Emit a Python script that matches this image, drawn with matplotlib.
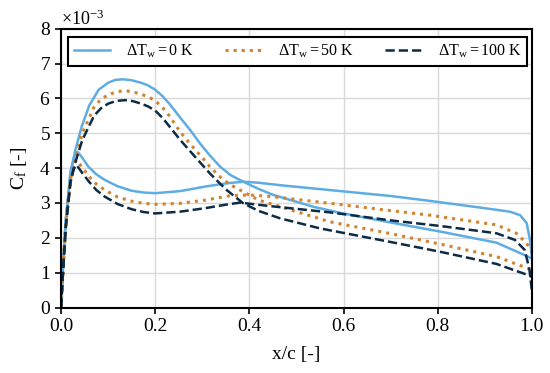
import numpy as np
import matplotlib
matplotlib.use('Agg')
import matplotlib.pyplot as plt
from matplotlib.ticker import ScalarFormatter

plt.rcParams['font.family'] = ['Liberation Serif', 'DejaVu Serif']
plt.rcParams['mathtext.fontset'] = 'custom'
plt.rcParams['mathtext.rm'] = 'Liberation Serif'
plt.rcParams['mathtext.it'] = 'Liberation Serif:italic'

# Cf values in units of 1e-3; branch "a" = leading-edge peak, branch "b" = small peak
x_0k_a = [0, 0.005, 0.01, 0.02, 0.03, 0.044, 0.06, 0.08, 0.1, 0.115, 0.132, 0.15, 0.17, 0.185,
          0.2, 0.215, 0.23, 0.253, 0.275, 0.295, 0.315, 0.338, 0.36, 0.387, 0.42, 0.451,
          0.536, 0.592, 0.7, 0.805, 0.925, 0.992, 1.0]
cf_0k_a = [0, 1.4, 2.5, 3.8, 4.5, 5.2, 5.8, 6.25, 6.45, 6.53, 6.55, 6.52, 6.45, 6.37,
           6.25, 6.07, 5.85, 5.45, 5.08, 4.71, 4.38, 4.04, 3.8, 3.61, 3.4, 3.23,
           2.89, 2.72, 2.44, 2.18, 1.86, 1.46, 1.4]
x_0k_b = [0, 0.005, 0.01, 0.02, 0.028, 0.035, 0.045, 0.058, 0.075, 0.093, 0.12, 0.15, 0.175,
          0.2, 0.253, 0.306, 0.35, 0.387, 0.42, 0.465, 0.571, 0.7, 0.783, 0.9, 0.953, 0.975,
          0.989, 0.996, 1.0]
cf_0k_b = [0, 1.4, 2.5, 3.9, 4.35, 4.47, 4.3, 4.04, 3.82, 3.66, 3.48, 3.35, 3.3,
           3.28, 3.34, 3.47, 3.56, 3.61, 3.58, 3.51, 3.37, 3.2, 3.06, 2.85, 2.75, 2.65,
           2.42, 1.94, 1.45]

x_50k_a = [0, 0.005, 0.01, 0.02, 0.03, 0.045, 0.07, 0.085, 0.1, 0.117, 0.134, 0.15, 0.17, 0.185,
           0.2, 0.215, 0.23, 0.253, 0.275, 0.3, 0.316, 0.34, 0.36, 0.38, 0.42, 0.5, 0.571,
           0.7, 0.805, 0.925, 0.992, 1.0]
cf_50k_a = [0, 1.3, 2.4, 3.7, 4.3, 5.0, 5.75, 5.98, 6.1, 6.19, 6.22, 6.2, 6.12, 6.05,
            5.93, 5.75, 5.5, 5.04, 4.68, 4.3, 4.04, 3.72, 3.52, 3.37, 3.08, 2.75, 2.46,
            2.12, 1.82, 1.46, 1.12, 1.05]
x_50k_b = [0, 0.005, 0.01, 0.02, 0.027, 0.033, 0.045, 0.06, 0.075, 0.093, 0.12, 0.15, 0.175,
           0.2, 0.253, 0.306, 0.359, 0.4, 0.45, 0.571, 0.7, 0.783, 0.925, 0.967, 0.989, 1.0]
cf_50k_b = [0, 1.3, 2.4, 3.7, 4.12, 4.23, 4.02, 3.75, 3.54, 3.37, 3.17, 3.05, 2.99,
            2.96, 2.99, 3.08, 3.21, 3.23, 3.18, 2.99, 2.78, 2.65, 2.37, 2.13, 1.84, 1.6]

x_100k_a = [0, 0.005, 0.01, 0.02, 0.03, 0.045, 0.07, 0.085, 0.1, 0.118, 0.136, 0.153, 0.17, 0.185,
            0.2, 0.215, 0.23, 0.253, 0.285, 0.316, 0.35, 0.387, 0.42, 0.465, 0.55, 0.7,
            0.805, 0.925, 0.992, 1.0]
cf_100k_a = [0, 1.2, 2.3, 3.6, 4.15, 4.8, 5.5, 5.72, 5.85, 5.93, 5.95, 5.92, 5.85, 5.77,
             5.65, 5.45, 5.2, 4.81, 4.32, 3.85, 3.39, 2.99, 2.77, 2.56, 2.27, 1.88,
             1.6, 1.25, 0.93, 0.88]
x_100k_b = [0, 0.005, 0.01, 0.02, 0.027, 0.033, 0.045, 0.06, 0.075, 0.093, 0.12, 0.15, 0.175,
            0.2, 0.253, 0.306, 0.345, 0.38, 0.444, 0.571, 0.7, 0.805, 0.925, 0.964, 0.985,
            0.995, 1.0]
cf_100k_b = [0, 1.2, 2.3, 3.6, 3.98, 4.09, 3.86, 3.6, 3.37, 3.18, 2.97, 2.82, 2.74,
             2.7, 2.75, 2.85, 2.94, 3.01, 2.91, 2.73, 2.5, 2.34, 2.13, 1.94, 1.65,
             1.08, 0.5]

labels = [r'$\Delta\mathrm{T_w} = 0\ \mathrm{K}$',
          r'$\Delta\mathrm{T_w} = 50\ \mathrm{K}$',
          r'$\Delta\mathrm{T_w} = 100\ \mathrm{K}$']
colors = ['#5DADE2', '#D2822D', '#0D2B45']
styles = ['-', ':', '--']

series = [
    (x_0k_a, cf_0k_a, x_0k_b, cf_0k_b),
    (x_50k_a, cf_50k_a, x_50k_b, cf_50k_b),
    (x_100k_a, cf_100k_a, x_100k_b, cf_100k_b),
]

fig = plt.figure(figsize=(5.5, 3.73), dpi=100)
ax = fig.add_axes([0.111, 0.1756, 0.856, 0.7474])

for i, (xa, ya, xb, yb) in enumerate(series):
    lw = 1.8 if styles[i] != ':' else 2.2
    ax.plot(xa, np.array(ya) * 1e-3, ls=styles[i], color=colors[i], lw=lw, label=labels[i])
    ax.plot(xb, np.array(yb) * 1e-3, ls=styles[i], color=colors[i], lw=lw)

ax.set_xlim(0, 1)
ax.set_ylim(0, 8e-3)
ax.set_xticks([0, 0.2, 0.4, 0.6, 0.8, 1.0])
ax.set_yticks(np.arange(0, 9) * 1e-3)
fmt = ScalarFormatter(useMathText=True)
fmt.set_powerlimits((-3, -3))
ax.yaxis.set_major_formatter(fmt)
ax.yaxis.get_offset_text().set_fontsize(13)

ax.grid(True, color='#d9d9d9', lw=1)
ax.set_axisbelow(True)
for s in ax.spines.values():
    s.set_linewidth(1.5)
    s.set_color('black')
ax.tick_params(direction='out', length=4, width=1.2, labelsize=14)

ax.set_xlabel('x/c [-]', fontsize=14, labelpad=8)
ax.set_ylabel(r'$\mathrm{C_f}$ [-]', fontsize=14, labelpad=7)

leg = ax.legend(loc='upper left', bbox_to_anchor=(0.015, 0.97, 0.974, 0.0), mode='expand',
                ncol=3, fontsize=11.5, frameon=True, fancybox=False, framealpha=1,
                edgecolor='black', handlelength=2.3, handletextpad=1.0, borderaxespad=0,
                borderpad=0.35)
leg.get_frame().set_linewidth(1.5)

fig.savefig('out.png', dpi=100)
